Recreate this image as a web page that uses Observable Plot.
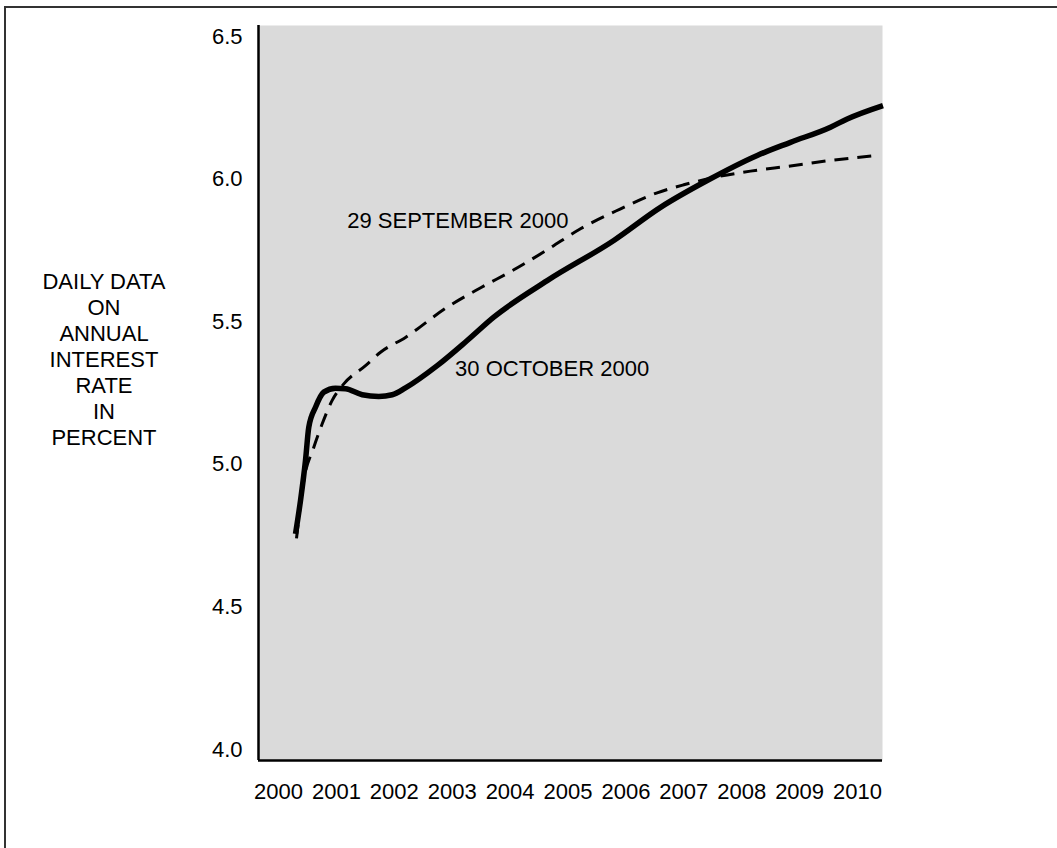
<!DOCTYPE html>
<html>
<head>
<meta charset="utf-8">
<script src="https://cdn.jsdelivr.net/npm/d3@7"></script>
<script src="https://cdn.jsdelivr.net/npm/@observablehq/plot@0.6"></script>
<style>
html, body { margin: 0; padding: 0; background: #fff; overflow: hidden; width: 1057px; height: 848px; }
#wrap { position: relative; width: 1057px; height: 848px; font-family: "Liberation Sans", Arial, sans-serif; color: #000; }
#border { position: absolute; left: 4px; top: 6px; width: 1200px; height: 1000px; border-left: 2px solid #333; border-top: 2px solid #333; }
#chart { position: absolute; left: 0; top: 0; }
#ytitle { position: absolute; left: 24px; width: 160px; top: 269px; text-align: center; font-size: 22px; line-height: 26px; }
</style>
</head>
<body>
<div id="wrap">
  <div id="border"></div>
  <div id="chart"></div>
  <div id="ytitle">DAILY DATA<br>ON<br>ANNUAL<br>INTEREST<br>RATE<br>IN<br>PERCENT</div>
</div>
<script>
// ---- data ----
const xTicks = [2000, 2001, 2002, 2003, 2004, 2005, 2006, 2007, 2008, 2009, 2010];
const yTicks = [4.0, 4.5, 5.0, 5.5, 6.0, 6.5];

// 30 October 2000 (solid)
const oct30Time = [2000.294, 2000.380, 2000.466, 2000.523, 2000.639, 2000.782, 2000.984, 2001.157, 2001.446, 2001.732, 2001.964, 2002.193, 2002.741, 2003.259, 2003.718, 2004.641, 2005.791, 2006.598, 2007.404, 2008.268, 2008.843, 2009.534, 2009.822, 2010.440];
const oct30Rate = [4.756, 4.873, 5.013, 5.130, 5.200, 5.253, 5.267, 5.265, 5.244, 5.238, 5.244, 5.268, 5.346, 5.434, 5.516, 5.644, 5.785, 5.901, 5.995, 6.083, 6.129, 6.182, 6.211, 6.258];

// 29 September 2000 (dashed)
const sep29Time = [2000.311, 2000.437, 2000.610, 2000.755, 2000.927, 2001.128, 2001.503, 2001.762, 2002.193, 2002.914, 2003.500, 2004.064, 2004.641, 2005.216, 2005.900, 2006.540, 2007.000, 2007.577, 2008.152, 2008.843, 2009.477, 2010.254];
const sep29Rate = [4.740, 4.943, 5.060, 5.142, 5.224, 5.282, 5.346, 5.393, 5.445, 5.551, 5.620, 5.682, 5.752, 5.826, 5.895, 5.952, 5.980, 6.008, 6.028, 6.046, 6.064, 6.081];

const labelText = ["29 SEPTEMBER 2000", "30 OCTOBER 2000"];
const labelTime = [2001.187, 2003.050];
const labelRate = [5.855, 5.333];

// ---- build tables ----
const oct30 = oct30Time.map((t, i) => ({t, v: oct30Rate[i]}));
const sep29 = sep29Time.map((t, i) => ({t, v: sep29Rate[i]}));
const labels = labelText.map((text, i) => ({text, t: labelTime[i], v: labelRate[i]}));

const xDomain = [1999.6546, 2010.4318];
const yDomain = [3.9614, 6.5386];
const FONT = "\"Liberation Sans\", Arial, sans-serif";

const chart = Plot.plot({
  width: 1057,
  height: 848,
  marginLeft: 258,
  marginRight: 175,
  marginTop: 25,
  marginBottom: 88,
  x: {domain: xDomain},
  y: {domain: yDomain},
  style: {fontFamily: FONT, fontSize: "22px", background: "transparent", color: "#000", overflow: "visible"},
  marks: [
    Plot.frame({fill: "#dadada", stroke: null}),
    Plot.axisY(yTicks, {tickSize: 0, tickPadding: 16, tickFormat: d => d.toFixed(1), label: null, fontSize: 22, fill: "#000"}),
    Plot.axisX(xTicks, {tickSize: 0, tickPadding: 23, tickFormat: d => String(d), label: null, fontSize: 22, fill: "#000"}),
    Plot.ruleX([xDomain[0]], {stroke: "#000", strokeWidth: 2.5}),
    Plot.ruleY([yDomain[0]], {stroke: "#000", strokeWidth: 2.5}),
    Plot.line(sep29, {x: "t", y: "v", stroke: "#000", strokeWidth: 3, strokeDasharray: "14,9", curve: "monotone-x", strokeLinecap: "butt"}),
    Plot.line(oct30, {x: "t", y: "v", stroke: "#000", strokeWidth: 5.5, curve: "monotone-x", strokeLinecap: "butt"}),
    Plot.text(labels, {x: "t", y: "v", text: "text", textAnchor: "start", lineAnchor: "middle", fontSize: 22, fill: "#000"})
  ]
});
document.getElementById("chart").appendChild(chart);
</script>
</body>
</html>
